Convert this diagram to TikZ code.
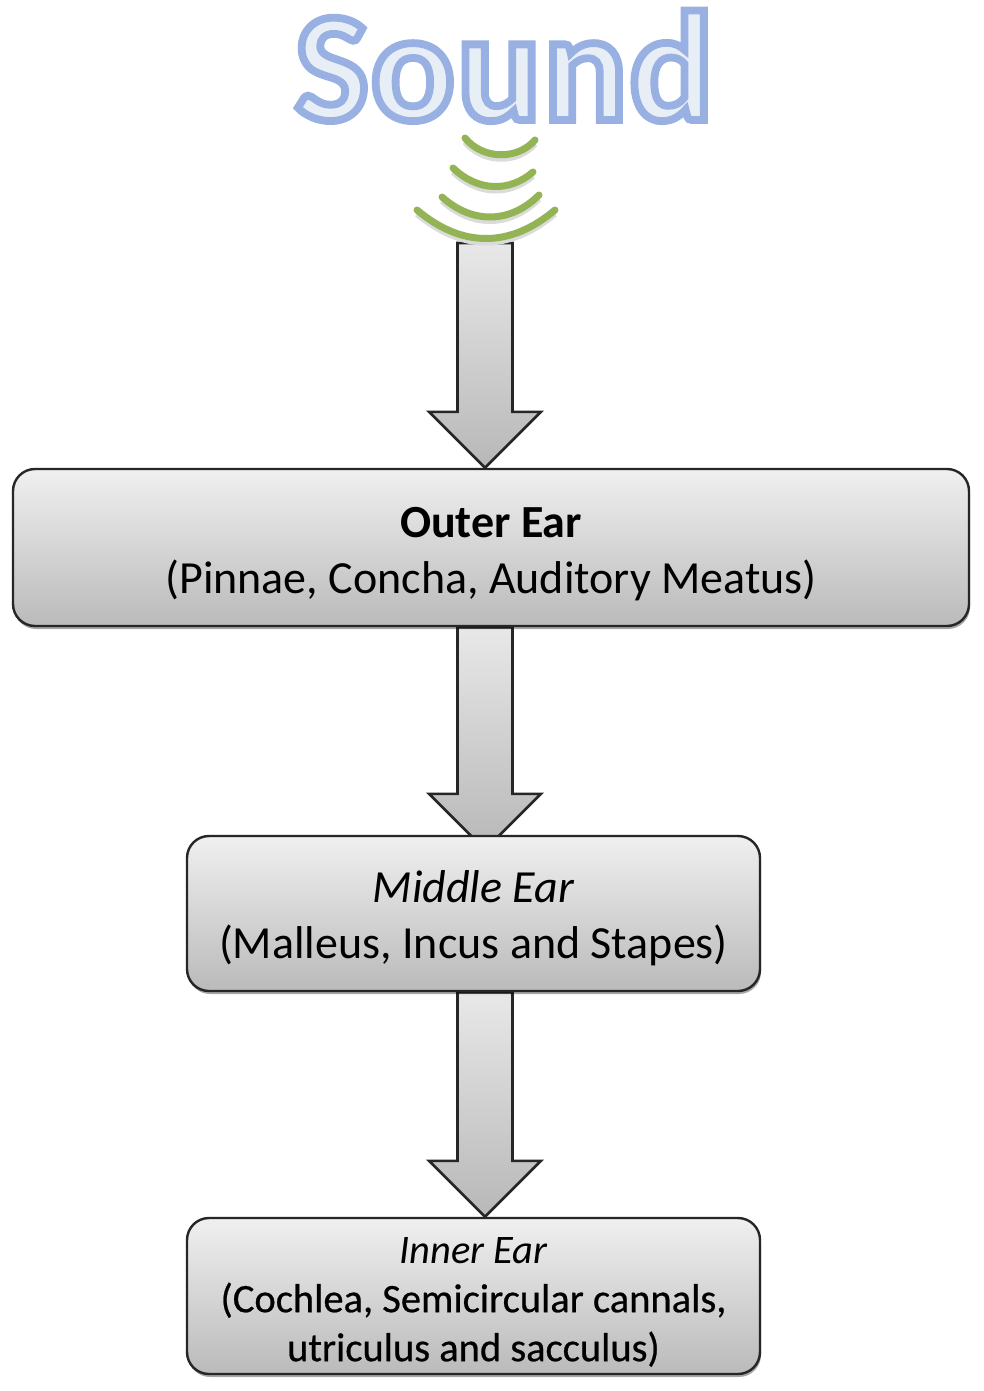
\documentclass[tikz,border=0pt]{standalone}
\usepackage{fontspec}
\setmainfont{Carlito}
\newfontface\soundface[FakeBold=5,LetterSpace=1.5]{Carlito Bold}
\newfontfamily\heavyface[FakeBold=0.6,BoldFont=Carlito Bold]{Carlito}
\usetikzlibrary{calc,shadows,backgrounds}
\definecolor{wavegreen}{RGB}{146,180,84}
\definecolor{soundfill}{RGB}{232,238,246}
\tikzset{
  x=1pt,y=-1pt,
  earbox/.style={draw=black!85,line width=2.4pt,rounded corners=22pt,top color=black!6,bottom color=black!27,
    align=center,inner sep=0pt,font=\fontsize{46}{56}\selectfont,
    drop shadow={shadow xshift=1pt,shadow yshift=-3pt,opacity=.35,fill=black}},
  innerbox/.style={earbox,font=\fontsize{40.5}{49}\selectfont},
  blockarrow/.style={draw=black!85,line width=2.6pt,line join=miter,top color=black!9,bottom color=black!28},
  wave/.style={draw=wavegreen,line width=7pt,line cap=round,
    preaction={draw=black!14,line width=6pt,transform canvas={yshift=-4pt}}},
}
\newcommand{\earBlock}[3]{% top point, tip point, neck distance above tip
  \draw[blockarrow] ($(#1)+(-27.5,0)$) -- ($(#2)+(-27.5,-#3)$) -- ($(#2)+(-56,-#3)$) -- (#2)
    -- ($(#2)+(56,-#3)$) -- ($(#2)+(27.5,-#3)$) -- ($(#1)+(27.5,0)$) -- cycle;}
\begin{document}
\begin{tikzpicture}
\useasboundingbox (0,0) rectangle (984,1391);

\node[anchor=base,inner sep=0pt,font=\fontsize{156}{156}\soundface] (sound) at (504,120)
  {\textcolor{soundfill}{\special{pdf:code 0.60 0.69 0.89 RG}Sound}};

\draw[wave] (465,138) .. controls (483,160) and (518,160) .. (535,140);
\draw[wave] (453,168) .. controls (478,192) and (510,192) .. (533,172);
\draw[wave] (442,197) .. controls (472,224) and (510,224) .. (539,195);
\draw[wave] (417,210) .. controls (462,248) and (510,248) .. (555,210);

\node[earbox,minimum width=956pt,minimum height=157pt] (outer) at (491,547.5)
  {\rule{0pt}{43pt}\textbf{Outer Ear}\\(Pinnae, Concha, Auditory Meatus)};
\node[earbox,minimum width=573pt,minimum height=155pt] (middle) at (473.5,913.5)
  {\rule{0pt}{41pt}\textit{Middle Ear}\\(Malleus, Incus and Stapes)};
\node[innerbox,minimum width=573pt,minimum height=156pt] (inner) at (473.5,1296)
  {\rule{0pt}{38pt}\textit{Inner Ear}\\\heavyface(Cochlea, Semicircular cannals,\\\heavyface utriculus and sacculus)};

\coordinate (axis) at (485,0);
\coordinate (wavefoot) at (485,243);
\begin{scope}[on background layer]
\fill[white] (0,0) rectangle (984,1391);
\earBlock{wavefoot}{axis|-outer.north}{56}
\earBlock{axis|-outer.south}{$(axis|-middle.north)+(0,15)$}{56}
\earBlock{axis|-middle.south}{axis|-inner.north}{56}
\end{scope}
\end{tikzpicture}
\end{document}
